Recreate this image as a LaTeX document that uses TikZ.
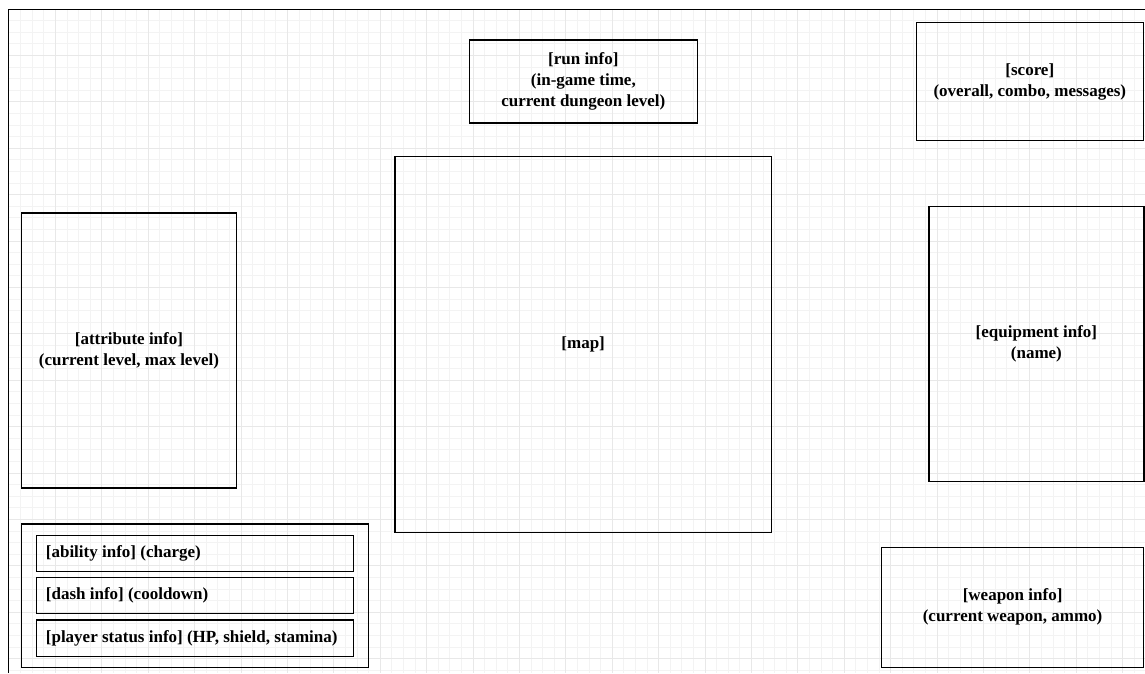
\documentclass[tikz,border=0pt]{standalone}
\usepackage{fontspec}
\setmainfont{Liberation Serif}
\definecolor{gridminor}{HTML}{F3F3F3}
\definecolor{gridmajor}{HTML}{E8E8E8}
\begin{document}
\begin{tikzpicture}[x=1pt,y=-1pt,
  txt/.style={font=\fontsize{17}{21}\selectfont\bfseries, align=center},
  panel/.style={txt, draw=black, line width=1.2pt, inner sep=0pt, anchor=north west},
  rowbox/.style={panel, minimum width=316.7pt, minimum height=36pt},
  rowtext/.style={txt, anchor=west, inner sep=0pt},
]
\useasboundingbox (0,0) rectangle (1145,673);
\fill[white] (0,0) rectangle (1145,673);

% background grid, origin at the frame corner
\foreach \i in {1,...,98} \draw[gridminor, line width=0.8pt] ({9+11.6*\i},9) -- ({9+11.6*\i},673);
\foreach \j in {1,...,57} \draw[gridminor, line width=0.8pt] (9,{9+11.6*\j}) -- (1145,{9+11.6*\j});
\foreach \i in {1,...,24} \draw[gridmajor, line width=0.8pt] ({9+46.4*\i},9) -- ({9+46.4*\i},673);
\foreach \j in {1,...,14} \draw[gridmajor, line width=0.8pt] (9,{9+46.4*\j}) -- (1145,{9+46.4*\j});

% screen frame
\coordinate (frameBL) at (8.5,673);
\coordinate (frameTL) at (8.5,9.5);
\coordinate (frameTR) at (1145,9.5);
\draw[black, line width=1.4pt] (frameBL) -- (frameTL) -- (frameTR);

% panels
\node[panel, minimum width=227.5pt, minimum height=83pt] (run) at (469,39.3)
  {[run info]\\(in-game time,\\current dungeon level)};
\node[panel, minimum width=227pt, minimum height=118.5pt] (score) at (915.7,21.7)
  {[score]\\(overall, combo, messages)};
\node[panel, minimum width=376.5pt, minimum height=376.5pt] (map) at (394.3,155.5)
  {[map]};
\node[panel, minimum width=215.3pt, minimum height=275pt] (attr) at (20.7,212.3)
  {[attribute info]\\(current level, max level)};
\node[panel, minimum width=215pt, minimum height=275pt] (equip) at (928.3,206)
  {[equipment info]\\(name)};
\node[panel, minimum width=262pt, minimum height=120pt] (weapon) at (881,546.7)
  {[weapon info]\\(current weapon, ammo)};

% player panel with its three rows
\node[panel, minimum width=347pt, minimum height=143.4pt] (player) at (21,523.3) {};
\node[rowbox] (ability) at (36,535) {};
\node[rowbox] (dash) at (36,576.7) {};
\node[rowbox, minimum height=36.4pt] (status) at (36,619.3) {};
\node[rowtext] (abilityT) at ([xshift=9.7pt]ability.west) {[ability info] (charge)};
\node[rowtext] (dashT) at ([xshift=9.7pt]dash.west) {[dash info] (cooldown)};
\node[rowtext] (statusT) at ([xshift=9.7pt]status.west) {[player status info] (HP, shield, stamina)};
\end{tikzpicture}
\end{document}
